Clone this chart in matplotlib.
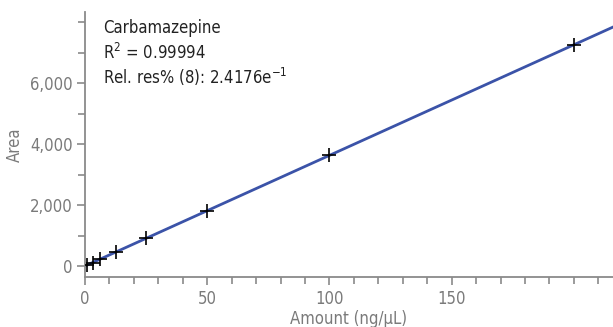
import numpy as np
import matplotlib
matplotlib.use("Agg")
import matplotlib.pyplot as plt
from matplotlib.ticker import MultipleLocator, FuncFormatter

amount = [0.78, 3.125, 6.25, 12.5, 25, 50, 100, 200]
area = [28, 113, 227, 455, 905, 1815, 3640, 7250]
x_ticks = [0, 50, 100, 150]
y_ticks = [0, 2000, 4000, 6000]
compound = "Carbamazepine"
r2_text = "R$^{2}$ = 0.99994"
res_text = "Rel. res% (8): 2.4176e$^{-1}$"

plt.rcParams['font.family'] = ['DejaVu Sans']
plt.rcParams['font.stretch'] = 'condensed'
plt.rcParams['mathtext.fontset'] = 'custom'
plt.rcParams['mathtext.rm'] = 'DejaVu Sans:stretch=condensed'

fig = plt.figure(figsize=(6.13, 3.27), dpi=100)
ax = fig.add_axes([85/613, 50/327, 1 - 85/613, (277-12)/327])

xmin, xmax = 0, 216
ymin, ymax = -360, 8330
slope, intercept = np.polyfit(amount, area, 1)
xl = np.array([xmin, xmax + 5])
ax.plot(xl, slope * xl + intercept, color='#3b53a8', lw=2, zorder=2)
ax.plot(amount, area, linestyle='none', marker='+', color='black', ms=10, mew=1.2, zorder=3)

ax.set_xlim(xmin, xmax)
ax.set_ylim(ymin, ymax)
ax.set_xticks(x_ticks)
ax.set_yticks(y_ticks)
ax.xaxis.set_minor_locator(MultipleLocator(10))
ax.yaxis.set_minor_locator(MultipleLocator(1000))
ax.yaxis.set_major_formatter(FuncFormatter(lambda v, p: f"{int(v):,}"))

gray = '#7a7a7a'
for s in ['top', 'right']:
    ax.spines[s].set_visible(False)
for s in ['left', 'bottom']:
    ax.spines[s].set_color('#8a8a8a')
    ax.spines[s].set_linewidth(1.3)
ax.tick_params(which='both', color='#8a8a8a', width=1.2, labelcolor=gray, labelsize=12, pad=3)
ax.tick_params(which='major', length=6)
ax.tick_params(which='minor', length=5)

ax.set_xlabel("Amount (ng/µL)", color=gray, fontsize=12, labelpad=2)
ax.set_ylabel("Area", color=gray, fontsize=12, labelpad=4)

tc = '#222222'
for i, t in enumerate([compound, r2_text, res_text]):
    fig.text(103/613, 1 - (28 + 24.5*i)/327, t, fontsize=12, color=tc, va='center', ha='left')

fig.savefig("out.png", dpi=100)
